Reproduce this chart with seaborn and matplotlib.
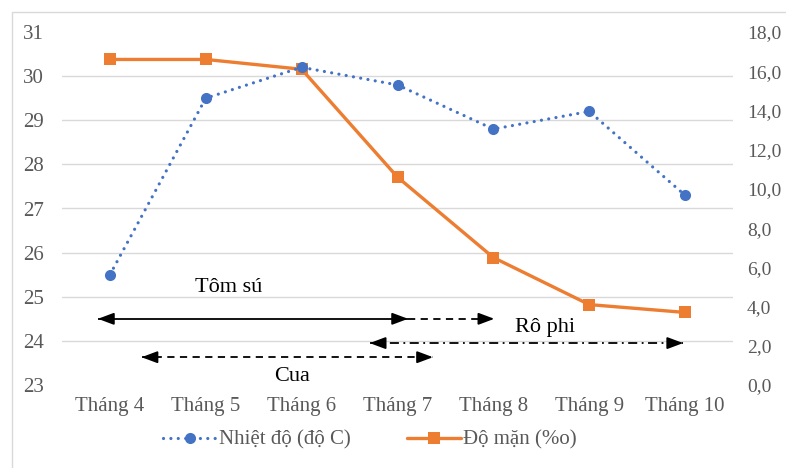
import matplotlib
matplotlib.use("Agg")
import matplotlib.pyplot as plt
import seaborn as sns
import pandas as pd
from matplotlib.patches import Rectangle
from matplotlib.lines import Line2D

# Monthly data
months = ["Tháng 4", "Tháng 5", "Tháng 6", "Tháng 7", "Tháng 8", "Tháng 9", "Tháng 10"]
temperature = [25.5, 29.5, 30.2, 29.8, 28.8, 29.2, 27.3]      # Nhiệt độ (độ C)
salinity = [16.6, 16.6, 16.1, 10.6, 6.5, 4.1, 3.7]            # Độ mặn (‰)

temp_ticks = [23, 24, 25, 26, 27, 28, 29, 30, 31]
sal_ticks = [0, 2, 4, 6, 8, 10, 12, 14, 16, 18]

# Farming seasons (x in month index, y on the temperature axis)
tom_su_main = (-0.125, 3.11, 24.5)
tom_su_ext = (3.11, 4.01, 24.5)
ro_phi_span = (2.71, 5.98, 23.95)
cua_span = (0.33, 3.37, 23.63)
labels = [("Tôm sú", 1.24, 25.2), ("Rô phi", 4.54, 24.3), ("Cua", 1.9, 23.2)]

df = pd.DataFrame({"x": range(len(months)), "month": months,
                   "temp": temperature, "sal": salinity})

sns.set_theme(style="white")
plt.rcParams["font.family"] = ["Liberation Serif", "DejaVu Serif"]

BLUE = "#4472C4"
ORANGE = "#ED7D31"
GREY = "#595959"
DOTS = (0, (0.01, 2.3))

fig = plt.figure(figsize=(7.86, 4.68), dpi=100)
fig.patch.set_facecolor("white")
fig.patches.append(Rectangle((12 / 786, -0.05), 1.2, 1 - 12 / 468 + 0.05,
                             transform=fig.transFigure, fill=False,
                             edgecolor="#d9d9d9", linewidth=1.0))

ax = fig.add_axes([62 / 786, 1 - 385 / 468, (733 - 62) / 786, (385 - 32) / 468])
ax2 = ax.twinx()

# Salinity (right axis, drawn underneath)
sns.lineplot(data=df, x="x", y="sal", ax=ax2, color=ORANGE, linewidth=2.4,
             marker="s", markersize=8, markeredgewidth=0, sort=False)
# Temperature (left axis, drawn on top)
sns.lineplot(data=df, x="x", y="temp", ax=ax, color=BLUE, linewidth=2.3,
             linestyle=DOTS, marker="o", markersize=8,
             markeredgewidth=0, sort=False)
for l in ax.lines:
    l.set_dash_capstyle("round")

ax.set_zorder(ax2.get_zorder() + 1)
ax.patch.set_visible(False)

ax.set_xlim(-0.5, len(months) - 0.5)
ax.set_ylim(23, 31)
ax2.set_ylim(0, 18)
ax.set_yticks(temp_ticks)
ax2.set_yticks(sal_ticks)
ax2.set_yticklabels([f"{v:.1f}".replace(".", ",") for v in sal_ticks])
ax.set_xticks(range(len(months)))
ax.set_xticklabels(months)

# Horizontal gridlines follow the temperature ticks but sit under both series
ax2.set_yticks([(t - 23) * 18 / 8 for t in temp_ticks], minor=True)
ax2.grid(axis="y", which="minor", color="#d9d9d9", linewidth=1.0)
ax2.grid(axis="y", which="major", visible=False)
ax.grid(False)
for a in (ax, ax2):
    for s in a.spines.values():
        s.set_visible(False)
    a.set_xlabel("")
    a.set_ylabel("")
    a.tick_params(which="both", length=0, labelsize=15, labelcolor=GREY)
ax.tick_params(axis="x", pad=9)
ax.tick_params(axis="y", pad=13)
ax2.tick_params(axis="y", pad=10, labelsize=14)


def span(x0, x1, y, ls, heads):
    ax.plot([x0, x1], [y, y], color="black", linewidth=1.3, linestyle=ls,
            solid_capstyle="butt", dash_capstyle="butt")
    hl = 0.13
    for end in heads:
        xe = x1 if end == "right" else x0
        xs = xe - hl if end == "right" else xe + hl
        ax.annotate("", xy=(xe, y), xytext=(xs, y),
                    arrowprops=dict(arrowstyle="-|>,head_length=0.8,head_width=0.3",
                                    color="black", lw=1.3, shrinkA=0, shrinkB=0))


span(tom_su_main[0], tom_su_main[1], tom_su_main[2], "-", ["left", "right"])
span(tom_su_ext[0], tom_su_ext[1], tom_su_ext[2], (0, (4, 3)), ["right"])
span(ro_phi_span[0], ro_phi_span[1], ro_phi_span[2], (0, (5, 2.5, 1, 2.5)), ["left", "right"])
span(cua_span[0], cua_span[1], cua_span[2], (0, (4, 3)), ["left", "right"])

for text, x, y in labels:
    ax.text(x, y, text, ha="center", va="center", fontsize=16, color="black")

handles = [
    Line2D([], [], color=BLUE, linewidth=2.3, linestyle=DOTS,
           marker="o", markersize=8, markeredgewidth=0, dash_capstyle="round"),
    Line2D([], [], color=ORANGE, linewidth=2.4, marker="s", markersize=8,
           markeredgewidth=0),
]
fig.legend(handles, ["Nhiệt độ (độ C)", "Độ mặn (%o)"], loc="center",
           bbox_to_anchor=(370 / 786, 1 - 440 / 468), ncol=2, frameon=False,
           fontsize=15, labelcolor=GREY, handlelength=2.6, handletextpad=0.1,
           columnspacing=2.7)

fig.savefig("out.png", dpi=100, facecolor="white")
